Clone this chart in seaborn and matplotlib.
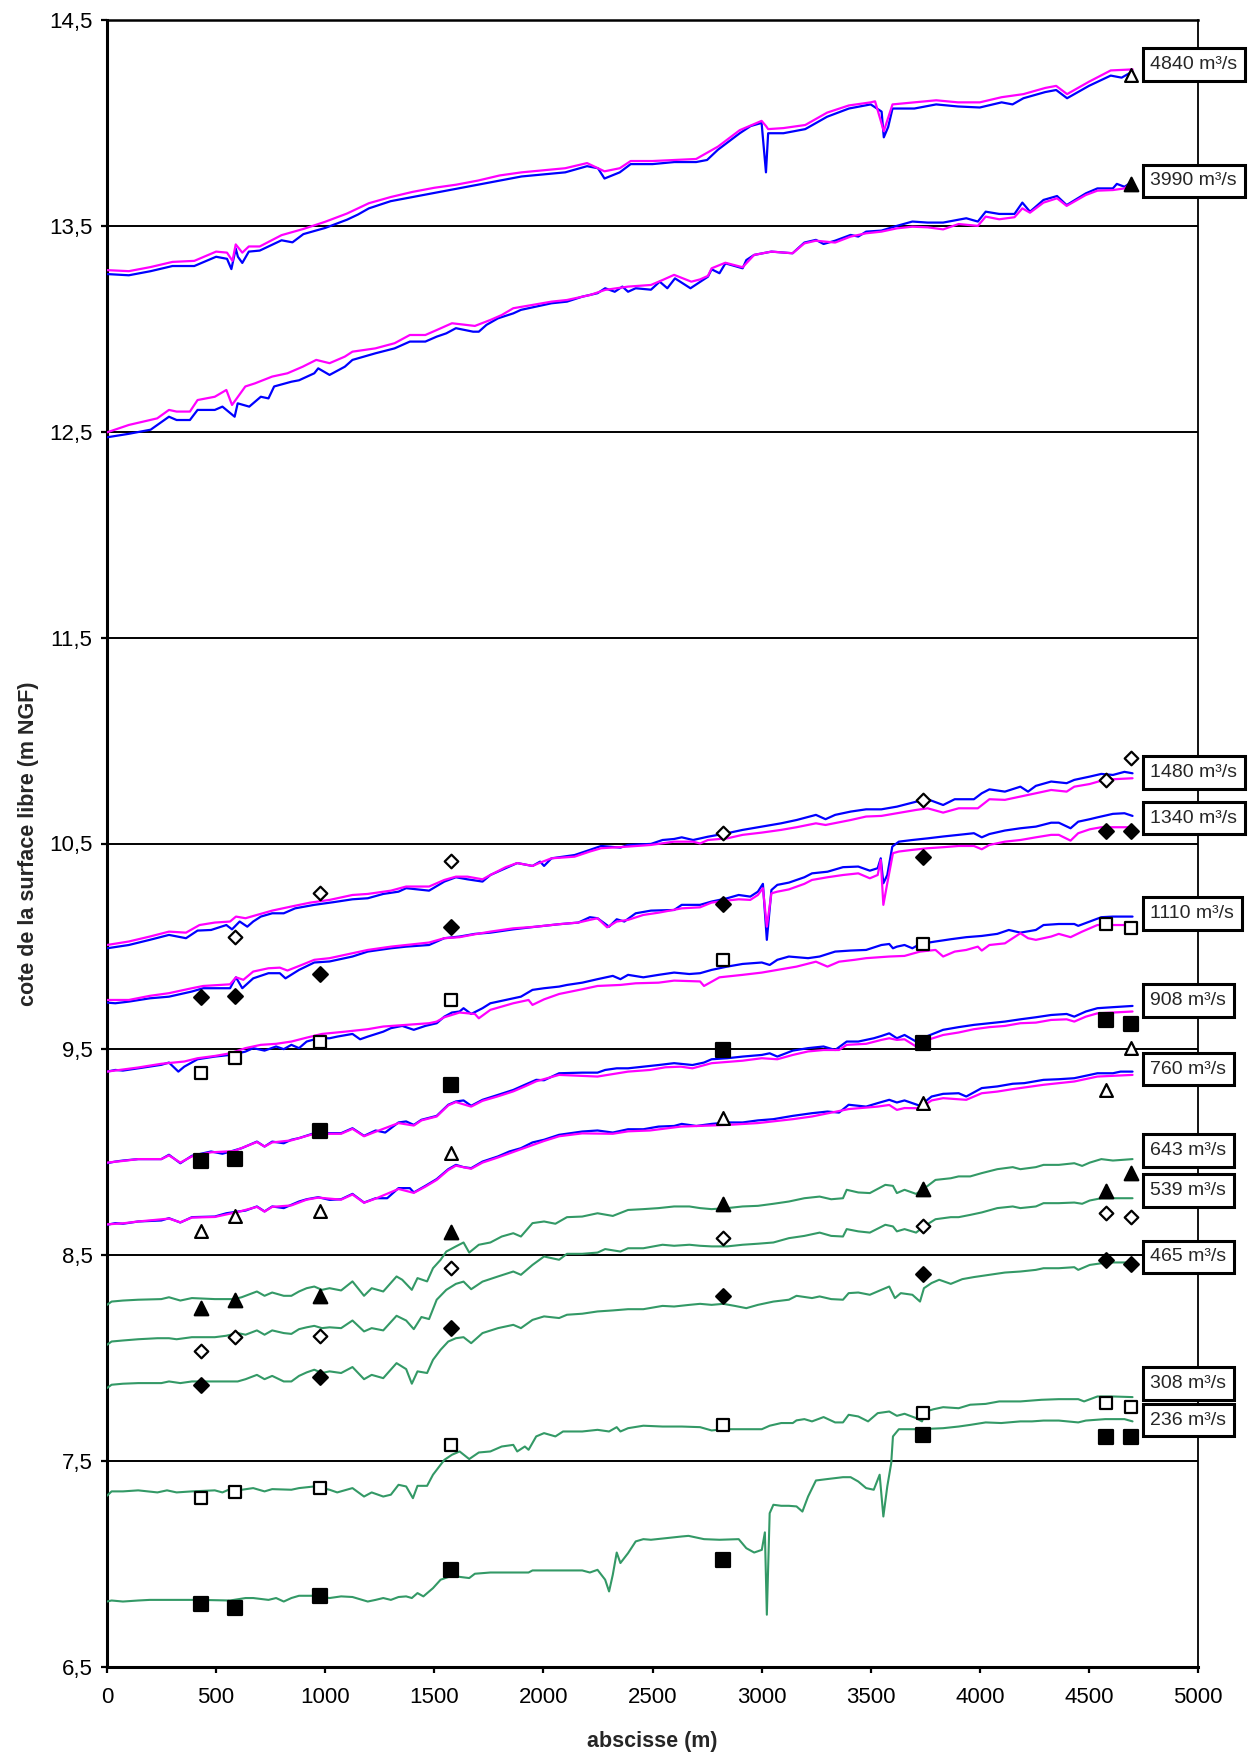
import numpy as np
import matplotlib
matplotlib.use("Agg")
import matplotlib.pyplot as plt
import seaborn as sns
from matplotlib.ticker import FuncFormatter, FixedLocator

nan = float("nan")

# ---------------- data ----------------
q4840_blue_x = [0,100,200,300,400,500,550,570,590,600,620,650,700,800,850,900,1000,1100,1150,1200,1300,1400,1500,1600,1700,1800,1900,2000,2100,2200,2250,2280,2350,2400,2500,2600,2700,2750,2800,2900,2950,3000,3020,3030,3100,3200,3300,3400,3500,3550,3560,3580,3600,3700,3800,3900,4000,4100,4150,4200,4300,4350,4400,4500,4600,4650,4700]
q4840_blue_y = [13.266,13.26,13.28,13.305,13.305,13.35,13.34,13.29,13.39,13.35,13.32,13.375,13.38,13.43,13.42,13.46,13.49,13.53,13.555,13.585,13.62,13.64,13.66,13.68,13.70,13.72,13.74,13.75,13.76,13.79,13.78,13.73,13.76,13.80,13.80,13.81,13.81,13.82,13.87,13.95,13.985,14.0,13.76,13.95,13.95,13.97,14.03,14.07,14.09,14.055,13.93,13.98,14.07,14.07,14.09,14.08,14.075,14.10,14.09,14.12,14.15,14.16,14.12,14.18,14.23,14.22,14.25]
q4840_mag_x = [0,100,200,300,400,500,550,575,590,620,650,700,800,900,1000,1100,1200,1300,1400,1500,1600,1700,1800,1900,2000,2100,2200,2280,2350,2400,2500,2600,2700,2800,2900,3000,3020,3030,3100,3200,3300,3400,3500,3520,3560,3600,3700,3800,3900,4000,4100,4200,4300,4350,4400,4500,4600,4700]
q4840_mag_y = [13.285,13.28,13.30,13.325,13.33,13.375,13.37,13.33,13.41,13.37,13.40,13.40,13.455,13.485,13.52,13.56,13.61,13.64,13.665,13.685,13.70,13.72,13.745,13.76,13.77,13.78,13.805,13.765,13.78,13.815,13.815,13.82,13.825,13.885,13.965,14.01,13.985,13.97,13.975,13.99,14.05,14.085,14.10,14.105,13.96,14.09,14.10,14.11,14.10,14.10,14.125,14.14,14.17,14.18,14.14,14.20,14.255,14.26]

q3990_blue_x = [0,100,200,284,319,380,415,494,529,585,599,652,705,740,766,845,880,950,968,1020,1090,1125,1230,1318,1388,1459,1511,1555,1599,1678,1704,1739,1792,1862,1897,1967,2037,2108,2178,2248,2283,2327,2362,2388,2423,2493,2533,2568,2603,2674,2754,2771,2807,2834,2913,2930,2966,3045,3142,3196,3249,3284,3337,3408,3443,3479,3549,3620,3691,3761,3832,3938,3991,4027,4089,4159,4195,4230,4292,4354,4398,4486,4539,4610,4628,4663,4700]
q3990_blue_y = [12.473,12.49,12.51,12.573,12.557,12.557,12.606,12.606,12.622,12.573,12.638,12.622,12.67,12.662,12.72,12.743,12.75,12.784,12.808,12.776,12.816,12.849,12.881,12.905,12.938,12.938,12.962,12.978,13.003,12.986,12.986,13.019,13.051,13.075,13.092,13.108,13.124,13.132,13.156,13.173,13.197,13.18,13.205,13.18,13.197,13.19,13.229,13.197,13.245,13.197,13.253,13.289,13.27,13.318,13.294,13.334,13.359,13.375,13.367,13.419,13.432,13.412,13.428,13.456,13.448,13.472,13.477,13.50,13.521,13.516,13.516,13.537,13.521,13.569,13.558,13.558,13.613,13.569,13.626,13.645,13.601,13.658,13.682,13.682,13.704,13.69,13.715]
q3990_mag_x = [0,100,230,284,319,380,415,494,547,573,634,678,757,827,897,959,1020,1090,1125,1230,1318,1388,1459,1511,1581,1686,1757,1809,1862,1950,2037,2108,2213,2283,2388,2493,2546,2599,2678,2718,2754,2771,2834,2913,2966,3045,3142,3196,3249,3337,3408,3479,3549,3620,3691,3761,3832,3903,3991,4027,4089,4159,4195,4230,4292,4354,4398,4486,4539,4610,4663,4700]
q3990_mag_y = [12.497,12.533,12.565,12.606,12.598,12.598,12.654,12.67,12.703,12.63,12.72,12.735,12.768,12.784,12.816,12.849,12.833,12.865,12.889,12.905,12.93,12.97,12.97,12.994,13.027,13.014,13.043,13.067,13.1,13.116,13.132,13.14,13.164,13.189,13.205,13.213,13.237,13.262,13.229,13.24,13.257,13.294,13.321,13.299,13.359,13.375,13.367,13.415,13.428,13.419,13.448,13.464,13.472,13.488,13.496,13.493,13.483,13.509,13.50,13.545,13.532,13.542,13.585,13.564,13.613,13.634,13.597,13.65,13.671,13.674,13.682,13.71]

q1480_blue_x = [0,100,196,284,362,415,477,547,573,608,643,670,705,757,810,862,950,1038,1125,1195,1266,1336,1371,1476,1546,1599,1652,1721,1757,1827,1880,1950,1985,2003,2037,2143,2213,2265,2353,2388,2493,2546,2599,2634,2686,2754,2842,2913,3001,3089,3160,3249,3293,3337,3408,3479,3549,3620,3708,3761,3832,3885,3973,4009,4044,4115,4186,4221,4257,4327,4398,4433,4504,4557,4610,4663,4700]
q1480_blue_y = [9.991,10.007,10.032,10.056,10.04,10.077,10.08,10.104,10.083,10.121,10.096,10.121,10.145,10.161,10.161,10.185,10.202,10.215,10.229,10.234,10.255,10.266,10.283,10.271,10.315,10.336,10.326,10.315,10.347,10.38,10.405,10.391,10.412,10.391,10.428,10.444,10.469,10.488,10.48,10.493,10.498,10.517,10.522,10.53,10.517,10.533,10.55,10.566,10.582,10.598,10.614,10.639,10.618,10.639,10.655,10.666,10.666,10.679,10.703,10.715,10.687,10.715,10.715,10.744,10.763,10.752,10.776,10.752,10.78,10.801,10.793,10.809,10.825,10.838,10.833,10.848,10.841]
q1480_mag_x = [0,100,196,284,362,424,494,564,591,635,687,757,845,932,1020,1125,1195,1301,1371,1476,1546,1599,1652,1721,1757,1827,1880,1950,1985,2037,2143,2213,2265,2388,2493,2599,2686,2718,2754,2842,2913,3001,3089,3160,3249,3293,3408,3479,3549,3620,3708,3761,3832,3903,3991,4044,4115,4186,4257,4327,4398,4433,4504,4557,4610,4700]
q1480_mag_y = [10.007,10.024,10.048,10.072,10.067,10.104,10.116,10.121,10.145,10.137,10.153,10.174,10.194,10.213,10.226,10.25,10.255,10.271,10.291,10.291,10.323,10.339,10.339,10.326,10.347,10.385,10.405,10.391,10.407,10.428,10.436,10.461,10.477,10.485,10.493,10.509,10.509,10.50,10.517,10.525,10.542,10.553,10.566,10.579,10.598,10.59,10.614,10.631,10.634,10.647,10.663,10.671,10.65,10.671,10.671,10.715,10.712,10.728,10.744,10.76,10.752,10.776,10.789,10.805,10.812,10.817]

q1340_blue_x = [0,38,100,196,284,389,441,494,564,591,620,670,740,792,818,880,950,1020,1090,1125,1195,1301,1371,1476,1546,1616,1686,1757,1862,1967,2072,2160,2213,2248,2301,2336,2371,2423,2493,2599,2634,2718,2771,2842,2895,2948,2983,3006,3024,3045,3072,3125,3196,3231,3302,3373,3443,3496,3532,3546,3558,3576,3599,3629,3691,3761,3832,3903,3973,4009,4044,4115,4186,4257,4327,4362,4416,4451,4504,4539,4610,4663,4700]
q1340_blue_y = [9.727,9.724,9.732,9.748,9.756,9.781,9.797,9.797,9.797,9.85,9.797,9.845,9.87,9.87,9.845,9.886,9.922,9.927,9.943,9.951,9.975,9.991,9.999,10.007,10.04,10.048,10.061,10.067,10.083,10.096,10.108,10.116,10.142,10.137,10.096,10.132,10.121,10.161,10.174,10.177,10.202,10.202,10.218,10.234,10.25,10.242,10.266,10.304,10.032,10.274,10.299,10.31,10.336,10.355,10.363,10.385,10.388,10.368,10.38,10.428,10.307,10.347,10.485,10.509,10.517,10.525,10.534,10.542,10.55,10.53,10.546,10.563,10.574,10.582,10.601,10.601,10.574,10.606,10.618,10.627,10.644,10.647,10.634]
q1340_mag_x = [0,100,196,284,389,441,564,591,625,670,740,792,827,880,950,1020,1090,1195,1301,1371,1476,1546,1616,1686,1757,1862,1967,2072,2160,2213,2248,2292,2336,2388,2458,2528,2634,2718,2771,2842,2895,2948,2983,3006,3024,3045,3072,3125,3196,3231,3302,3373,3443,3496,3532,3546,3558,3576,3602,3629,3691,3761,3832,3903,3973,4009,4044,4115,4186,4257,4327,4362,4416,4451,4504,4557,4610,4700]
q1340_mag_y = [9.74,9.74,9.76,9.773,9.797,9.808,9.816,9.85,9.838,9.878,9.894,9.897,9.883,9.905,9.935,9.943,9.959,9.983,9.999,10.007,10.019,10.04,10.045,10.059,10.072,10.088,10.096,10.108,10.116,10.129,10.137,10.093,10.121,10.129,10.153,10.164,10.185,10.19,10.213,10.223,10.229,10.226,10.25,10.283,10.096,10.258,10.266,10.277,10.304,10.323,10.336,10.347,10.355,10.331,10.347,10.42,10.202,10.307,10.453,10.461,10.469,10.477,10.482,10.488,10.488,10.472,10.493,10.509,10.517,10.53,10.542,10.542,10.514,10.55,10.569,10.579,10.579,10.579]

q1110_blue_x = [0,38,73,143,249,284,327,354,415,494,564,634,670,722,775,810,845,880,915,968,1020,1055,1125,1160,1195,1266,1301,1353,1406,1459,1511,1546,1581,1616,1634,1669,1721,1757,1827,1897,1950,2003,2072,2108,2178,2248,2318,2353,2388,2458,2528,2599,2669,2718,2771,2842,2913,3001,3037,3072,3125,3213,3266,3337,3408,3479,3549,3585,3602,3620,3655,3691,3726,3797,3867,3938,4009,4080,4133,4186,4257,4292,4362,4433,4451,4504,4557,4610,4700]
q1110_blue_y = [9.392,9.40,9.397,9.408,9.425,9.436,9.392,9.416,9.452,9.465,9.473,9.489,9.506,9.494,9.514,9.501,9.522,9.506,9.538,9.554,9.554,9.562,9.575,9.549,9.562,9.586,9.603,9.614,9.595,9.614,9.627,9.659,9.679,9.684,9.70,9.672,9.70,9.724,9.74,9.756,9.789,9.797,9.805,9.813,9.824,9.841,9.857,9.841,9.862,9.85,9.862,9.873,9.866,9.87,9.886,9.902,9.915,9.922,9.91,9.935,9.951,9.943,9.951,9.975,9.98,9.983,10.007,10.012,9.991,9.999,10.007,9.991,10.012,10.024,10.035,10.045,10.051,10.061,10.08,10.067,10.08,10.104,10.109,10.109,10.1,10.121,10.142,10.145,10.145]
q1110_mag_x = [0,143,249,354,415,494,564,634,705,775,845,915,985,1090,1195,1266,1371,1476,1511,1546,1616,1686,1704,1757,1862,1932,1950,2003,2072,2178,2248,2353,2423,2528,2599,2718,2736,2807,2913,3001,3072,3160,3249,3302,3355,3426,3479,3585,3655,3726,3797,3832,3885,3938,3991,4009,4044,4115,4186,4221,4257,4327,4362,4416,4469,4539,4610,4700]
q1110_mag_y = [9.392,9.412,9.43,9.441,9.457,9.468,9.481,9.506,9.522,9.527,9.538,9.557,9.575,9.586,9.598,9.611,9.619,9.627,9.635,9.656,9.679,9.672,9.651,9.692,9.724,9.74,9.716,9.743,9.769,9.792,9.808,9.813,9.821,9.824,9.834,9.83,9.808,9.85,9.862,9.873,9.886,9.902,9.926,9.902,9.926,9.935,9.943,9.951,9.954,9.975,9.983,9.951,9.975,9.983,9.999,9.98,10.007,10.015,10.064,10.04,10.032,10.048,10.061,10.045,10.072,10.104,10.104,10.104]

q908_blue_x = [0,38,73,143,249,284,336,389,477,529,582,617,687,722,757,810,845,880,950,1020,1073,1125,1178,1231,1275,1336,1371,1406,1441,1511,1564,1599,1634,1669,1721,1792,1862,1915,1967,2003,2072,2178,2248,2283,2336,2388,2458,2528,2599,2683,2736,2771,2842,2913,3001,3037,3072,3143,3213,3284,3337,3390,3443,3514,3549,3585,3620,3655,3708,3761,3832,3903,3973,4044,4115,4186,4257,4327,4398,4433,4486,4539,4610,4700]
q908_blue_y = [8.947,8.955,8.96,8.967,8.967,8.988,8.947,8.983,9.004,8.993,9.009,9.02,9.052,9.028,9.052,9.044,9.061,9.069,9.093,9.093,9.093,9.117,9.08,9.106,9.096,9.145,9.15,9.133,9.158,9.177,9.231,9.247,9.252,9.226,9.255,9.279,9.303,9.328,9.352,9.35,9.384,9.387,9.387,9.4,9.408,9.408,9.416,9.424,9.433,9.424,9.436,9.452,9.457,9.465,9.473,9.481,9.465,9.494,9.506,9.514,9.497,9.538,9.538,9.554,9.565,9.578,9.554,9.57,9.538,9.565,9.595,9.608,9.619,9.627,9.635,9.646,9.656,9.667,9.672,9.659,9.684,9.70,9.705,9.711]
q908_mag_x = [0,73,143,249,284,336,389,477,582,687,722,757,845,950,1073,1125,1178,1231,1336,1406,1441,1511,1564,1599,1669,1721,1792,1862,1915,1967,2072,2248,2388,2488,2559,2630,2683,2771,2913,3001,3072,3143,3213,3284,3355,3390,3479,3549,3585,3620,3655,3708,3761,3832,3903,3973,4044,4115,4186,4257,4327,4398,4433,4486,4539,4610,4700]
q908_mag_y = [8.95,8.958,8.967,8.967,8.985,8.95,8.98,9.0,9.006,9.05,9.028,9.048,9.058,9.09,9.09,9.114,9.078,9.1,9.142,9.13,9.155,9.174,9.228,9.244,9.222,9.25,9.272,9.296,9.32,9.345,9.376,9.368,9.392,9.40,9.413,9.416,9.408,9.433,9.445,9.457,9.452,9.473,9.49,9.497,9.497,9.522,9.527,9.546,9.554,9.546,9.549,9.514,9.546,9.57,9.582,9.598,9.608,9.614,9.627,9.63,9.643,9.646,9.635,9.659,9.675,9.679,9.684]

q760_blue_x = [0,38,73,143,249,284,336,389,494,547,599,635,687,722,757,810,845,880,915,968,1020,1073,1125,1178,1231,1284,1336,1388,1406,1459,1511,1564,1599,1634,1669,1721,1792,1844,1897,1950,2003,2072,2178,2248,2318,2388,2458,2528,2599,2634,2701,2771,2842,2913,2983,3054,3143,3231,3302,3355,3399,3479,3532,3585,3620,3655,3726,3779,3832,3903,3938,4009,4080,4151,4204,4292,4362,4433,4504,4539,4610,4645,4700]
q760_blue_y = [8.648,8.656,8.653,8.664,8.669,8.68,8.659,8.685,8.688,8.704,8.712,8.717,8.737,8.713,8.737,8.729,8.745,8.761,8.772,8.782,8.769,8.772,8.798,8.756,8.777,8.777,8.826,8.826,8.805,8.837,8.87,8.918,8.939,8.928,8.923,8.955,8.98,9.004,9.02,9.048,9.061,9.085,9.101,9.106,9.096,9.112,9.112,9.125,9.128,9.138,9.128,9.138,9.145,9.145,9.155,9.161,9.177,9.19,9.198,9.193,9.231,9.222,9.239,9.255,9.242,9.252,9.226,9.271,9.284,9.287,9.271,9.312,9.32,9.333,9.336,9.352,9.355,9.36,9.376,9.384,9.384,9.392,9.392]
q760_mag_x = [0,73,143,284,336,389,494,599,687,722,757,845,915,968,1073,1125,1178,1231,1336,1406,1459,1511,1564,1599,1669,1721,1792,1897,2003,2072,2178,2318,2388,2488,2630,2842,2983,3143,3231,3399,3532,3585,3620,3655,3726,3779,3832,3938,4009,4080,4151,4292,4433,4539,4700]
q760_mag_y = [8.65,8.655,8.664,8.678,8.66,8.683,8.686,8.71,8.735,8.712,8.735,8.742,8.77,8.78,8.77,8.795,8.755,8.775,8.822,8.803,8.833,8.866,8.914,8.935,8.92,8.95,8.975,9.015,9.055,9.078,9.092,9.09,9.102,9.106,9.125,9.133,9.142,9.161,9.174,9.21,9.222,9.23,9.206,9.215,9.214,9.252,9.263,9.255,9.287,9.295,9.307,9.328,9.344,9.368,9.376]

q643_x = [0,21,73,143,249,284,336,389,494,582,617,687,722,757,810,845,880,915,950,985,1020,1073,1125,1178,1213,1266,1327,1353,1397,1423,1467,1494,1529,1555,1599,1634,1660,1704,1757,1809,1862,1897,1950,2003,2055,2108,2178,2248,2318,2388,2458,2528,2599,2669,2718,2771,2842,2913,2983,3054,3125,3196,3266,3319,3373,3390,3443,3496,3567,3602,3620,3655,3708,3761,3797,3867,3903,3956,4009,4080,4151,4186,4257,4292,4362,4433,4469,4504,4557,4610,4700]
q643_y = [8.259,8.275,8.28,8.284,8.287,8.296,8.28,8.292,8.287,8.287,8.296,8.324,8.303,8.319,8.303,8.303,8.324,8.34,8.348,8.332,8.34,8.329,8.373,8.303,8.34,8.324,8.397,8.381,8.332,8.389,8.373,8.437,8.478,8.518,8.543,8.562,8.513,8.551,8.562,8.591,8.607,8.591,8.656,8.664,8.653,8.685,8.688,8.704,8.691,8.72,8.724,8.729,8.737,8.737,8.729,8.724,8.729,8.737,8.74,8.75,8.761,8.777,8.785,8.772,8.777,8.818,8.805,8.802,8.842,8.837,8.802,8.818,8.798,8.837,8.866,8.874,8.883,8.883,8.899,8.918,8.928,8.918,8.928,8.939,8.939,8.947,8.934,8.95,8.967,8.96,8.967]

q539_x = [0,21,73,143,231,284,319,389,494,547,599,635,687,722,757,810,845,880,915,950,985,1020,1073,1125,1178,1213,1266,1327,1371,1406,1441,1476,1511,1555,1599,1634,1669,1721,1792,1862,1897,1950,2003,2072,2108,2178,2248,2283,2353,2388,2458,2546,2599,2669,2718,2771,2842,2913,2983,3054,3125,3196,3266,3319,3373,3390,3443,3496,3567,3602,3620,3655,3708,3744,3797,3867,3903,3956,4009,4080,4151,4186,4257,4292,4362,4433,4469,4504,4557,4610,4700]
q539_y = [8.065,8.081,8.086,8.092,8.097,8.097,8.092,8.102,8.102,8.109,8.122,8.114,8.135,8.114,8.135,8.122,8.118,8.141,8.15,8.157,8.146,8.15,8.146,8.183,8.13,8.146,8.135,8.206,8.183,8.141,8.2,8.19,8.284,8.332,8.361,8.372,8.335,8.372,8.397,8.421,8.405,8.453,8.494,8.478,8.507,8.507,8.513,8.53,8.518,8.534,8.534,8.551,8.546,8.551,8.546,8.543,8.543,8.551,8.556,8.562,8.583,8.594,8.61,8.594,8.591,8.627,8.616,8.61,8.648,8.64,8.616,8.627,8.61,8.64,8.675,8.685,8.685,8.696,8.708,8.729,8.737,8.729,8.737,8.753,8.753,8.756,8.75,8.766,8.777,8.777,8.777]

q465_x = [0,21,73,143,249,284,336,389,494,599,635,687,722,757,810,845,880,915,950,985,1020,1073,1125,1178,1213,1266,1327,1371,1397,1423,1467,1494,1529,1564,1599,1634,1669,1721,1792,1862,1897,1950,2003,2072,2108,2178,2248,2318,2388,2458,2546,2599,2669,2718,2771,2824,2877,2930,2983,3054,3125,3160,3231,3266,3319,3373,3399,3443,3496,3549,3585,3611,3638,3691,3726,3744,3779,3814,3867,3920,3973,4044,4115,4186,4257,4292,4362,4433,4451,4504,4557,4610,4700]
q465_y = [7.855,7.871,7.876,7.879,7.879,7.887,7.879,7.887,7.887,7.887,7.898,7.919,7.898,7.914,7.887,7.887,7.914,7.931,7.944,7.928,7.936,7.928,7.957,7.898,7.919,7.903,7.976,7.947,7.876,7.936,7.928,7.992,8.041,8.081,8.097,8.102,8.073,8.122,8.146,8.162,8.146,8.186,8.203,8.195,8.211,8.216,8.227,8.232,8.238,8.238,8.254,8.251,8.259,8.264,8.259,8.264,8.254,8.243,8.259,8.275,8.284,8.303,8.292,8.3,8.287,8.284,8.316,8.319,8.308,8.332,8.348,8.292,8.316,8.308,8.275,8.34,8.365,8.381,8.361,8.384,8.394,8.405,8.416,8.421,8.429,8.437,8.437,8.442,8.429,8.453,8.461,8.465,8.465]

q308_x = [0,21,73,143,231,275,319,389,494,529,564,599,670,722,757,845,880,950,1020,1055,1125,1178,1213,1266,1301,1336,1371,1402,1423,1467,1494,1546,1581,1616,1660,1704,1757,1809,1862,1880,1915,1932,1967,2003,2055,2090,2178,2248,2301,2336,2353,2388,2458,2546,2634,2718,2771,2824,2913,3001,3037,3090,3143,3160,3196,3231,3284,3337,3373,3399,3443,3488,3532,3585,3620,3655,3708,3735,3753,3788,3832,3903,3956,4027,4089,4186,4283,4362,4451,4478,4539,4610,4700]
q308_y = [7.332,7.353,7.353,7.358,7.348,7.358,7.348,7.353,7.358,7.348,7.364,7.358,7.369,7.353,7.364,7.361,7.369,7.377,7.361,7.348,7.369,7.328,7.348,7.328,7.337,7.385,7.377,7.32,7.38,7.38,7.434,7.506,7.531,7.547,7.51,7.542,7.547,7.571,7.579,7.547,7.571,7.555,7.62,7.636,7.62,7.644,7.644,7.652,7.644,7.665,7.644,7.66,7.672,7.668,7.668,7.665,7.649,7.655,7.655,7.655,7.672,7.685,7.685,7.698,7.704,7.693,7.714,7.688,7.688,7.725,7.717,7.693,7.733,7.741,7.72,7.73,7.709,7.693,7.741,7.752,7.762,7.757,7.774,7.778,7.79,7.79,7.798,7.801,7.801,7.79,7.814,7.814,7.811]

q236_x = [0,21,73,143,196,319,424,564,635,670,740,775,810,845,880,950,1020,1073,1125,1195,1231,1266,1301,1336,1371,1397,1423,1450,1494,1529,1564,1599,1660,1686,1757,1862,1932,1950,2072,2178,2213,2248,2283,2301,2318,2336,2353,2388,2423,2458,2493,2564,2634,2665,2736,2807,2895,2930,2966,3001,3015,3024,3037,3054,3090,3125,3160,3187,3213,3249,3302,3373,3408,3443,3479,3514,3541,3558,3576,3594,3602,3629,3726,3832,3903,3956,4027,4098,4186,4239,4292,4362,4451,4486,4575,4663,4700]
q236_y = [6.818,6.823,6.818,6.823,6.826,6.826,6.826,6.823,6.835,6.835,6.826,6.835,6.818,6.835,6.846,6.846,6.835,6.843,6.84,6.818,6.826,6.835,6.826,6.84,6.843,6.835,6.859,6.843,6.883,6.924,6.937,6.94,6.932,6.953,6.959,6.959,6.959,6.969,6.969,6.969,6.959,6.972,6.924,6.867,6.948,7.056,7.005,7.053,7.11,7.121,7.118,7.126,7.134,7.137,7.121,7.118,7.121,7.077,7.056,7.069,7.154,6.754,7.247,7.288,7.283,7.283,7.28,7.255,7.328,7.406,7.413,7.422,7.422,7.401,7.369,7.361,7.434,7.231,7.377,7.49,7.62,7.655,7.655,7.66,7.668,7.676,7.688,7.685,7.693,7.693,7.697,7.697,7.688,7.697,7.704,7.704,7.693]

# measured water levels at gauging stations
stations = [431, 585, 976, 1578, 2822, 3740, 4578, 4695]
m4840 = [nan, nan, nan, nan, nan, nan, nan, 14.233]
m3990 = [nan, nan, nan, nan, nan, nan, nan, 13.703]
m1480 = [nan, 10.048, 10.258, 10.415, 10.55, 10.712, 10.809, 10.917]
m1340 = [9.752, 9.76, 9.865, 10.096, 10.205, 10.433, 10.561, 10.561]
m1110 = [9.384, 9.46, 9.535, 9.74, 9.935, 10.012, 10.108, 10.088]
m908 = [8.96, 8.968, 9.104, 9.329, 9.497, 9.533, 9.643, 9.624]
m760 = [8.62, 8.692, 8.717, 8.996, 9.166, 9.239, 9.303, 9.506]
m643 = [8.243, 8.284, 8.30, 8.615, 8.75, 8.821, 8.81, 8.899]
m539 = [8.033, 8.101, 8.109, 8.437, 8.583, 8.643, 8.704, 8.688]
m465 = [7.871, nan, 7.908, 8.146, 8.303, 8.408, 8.475, 8.457]
m308 = [7.32, 7.348, 7.369, 7.579, 7.676, 7.733, 7.782, 7.762]
m236 = [6.807, 6.786, 6.846, 6.972, 7.018, 7.628, 7.617, 7.617]

label_texts = ["4840 m³/s", "3990 m³/s", "1480 m³/s", "1340 m³/s", "1110 m³/s", "908 m³/s",
               "760 m³/s", "643 m³/s", "539 m³/s", "465 m³/s", "308 m³/s", "236 m³/s"]
label_y = [14.283, 13.719, 10.844, 10.623, 10.161, 9.737, 9.404, 9.01, 8.815, 8.492, 7.877, 7.699]

x_ticks = [0, 500, 1000, 1500, 2000, 2500, 3000, 3500, 4000, 4500, 5000]
y_ticks = [6.5, 7.5, 8.5, 9.5, 10.5, 11.5, 12.5, 13.5, 14.5]

# ---------------- style ----------------
sns.set_theme(style="white")
plt.rcParams["font.family"] = ["Liberation Sans", "DejaVu Sans"]

BLUE = "#0000FF"
MAGENTA = "#FF00FF"
GREEN = "#339966"

fig = plt.figure(figsize=(12.55, 17.55), dpi=100)
ax = fig.add_axes([107 / 1255, 1 - 1667 / 1755, 1091 / 1255, 1647 / 1755])
ax.set_facecolor("white")

pairs = [
    (q4840_blue_x, q4840_blue_y, q4840_mag_x, q4840_mag_y),
    (q3990_blue_x, q3990_blue_y, q3990_mag_x, q3990_mag_y),
    (q1480_blue_x, q1480_blue_y, q1480_mag_x, q1480_mag_y),
    (q1340_blue_x, q1340_blue_y, q1340_mag_x, q1340_mag_y),
    (q1110_blue_x, q1110_blue_y, q1110_mag_x, q1110_mag_y),
    (q908_blue_x, q908_blue_y, q908_mag_x, q908_mag_y),
    (q760_blue_x, q760_blue_y, q760_mag_x, q760_mag_y),
]
for bx, by, mx, my in pairs:
    sns.lineplot(x=bx, y=by, ax=ax, color=BLUE, lw=1.6, estimator=None, sort=False, zorder=3)
    sns.lineplot(x=mx, y=my, ax=ax, color=MAGENTA, lw=1.6, estimator=None, sort=False, zorder=3.1)

for gx, gy in [(q643_x, q643_y), (q539_x, q539_y), (q465_x, q465_y), (q308_x, q308_y), (q236_x, q236_y)]:
    sns.lineplot(x=gx, y=gy, ax=ax, color=GREEN, lw=1.5, estimator=None, sort=False, zorder=3)

# markers: (values, marker, filled, size)
marker_specs = [
    (m4840, "^", False, 85),
    (m3990, "^", True, 95),
    (m1480, "D", False, 48),
    (m1340, "D", True, 56),
    (m1110, "s", False, 78),
    (m908, "s", True, 95),
    (m760, "^", False, 85),
    (m643, "^", True, 95),
    (m539, "D", False, 48),
    (m465, "D", True, 56),
    (m308, "s", False, 78),
    (m236, "s", True, 95),
]
for vals, mk, filled, size in marker_specs:
    sns.scatterplot(x=stations, y=vals, ax=ax, marker=mk, s=size,
                    color="black" if filled else "white",
                    edgecolor="black", linewidth=1.6, zorder=5, legend=False)

for txt, yv in zip(label_texts, label_y):
    ax.text(4782, yv, txt, fontsize=14, ha="left", va="center", zorder=10, clip_on=False,
            bbox=dict(boxstyle="square,pad=0.4", fc="white", ec="black", lw=2.2))

ax.set_xlim(0, 5000)
ax.set_ylim(6.5, 14.5)
ax.xaxis.set_major_locator(FixedLocator(x_ticks))
ax.yaxis.set_major_locator(FixedLocator(y_ticks))
ax.yaxis.set_major_formatter(FuncFormatter(lambda v, p: f"{v:.1f}".replace(".", ",")))
ax.xaxis.set_major_formatter(FuncFormatter(lambda v, p: f"{int(v)}"))

ax.grid(False)
ax.yaxis.grid(True, color="black", lw=1.4)
ax.set_axisbelow(True)

for side, lw in [("left", 2.2), ("bottom", 2.2), ("top", 1.8), ("right", 1.3)]:
    ax.spines[side].set_visible(True)
    ax.spines[side].set_color("black")
    ax.spines[side].set_linewidth(lw)

ax.tick_params(axis="both", which="major", direction="out", length=4.5, width=1.6,
               color="black", labelsize=16, labelcolor="black")
ax.tick_params(axis="y", pad=6, left=True)
ax.tick_params(axis="x", pad=10, bottom=True)

ax.set_xlabel("abscisse (m)", fontsize=15.5, fontweight="bold")
ax.set_ylabel("cote de la surface libre (m NGF)", fontsize=15.5, fontweight="bold")
ax.xaxis.set_label_coords(0.5, -0.045)
ax.xaxis.label.set_verticalalignment("center")
ax.yaxis.set_label_coords(-0.0724, 0.5)
ax.yaxis.label.set_verticalalignment("center")

fig.savefig("out.png", dpi=100)
